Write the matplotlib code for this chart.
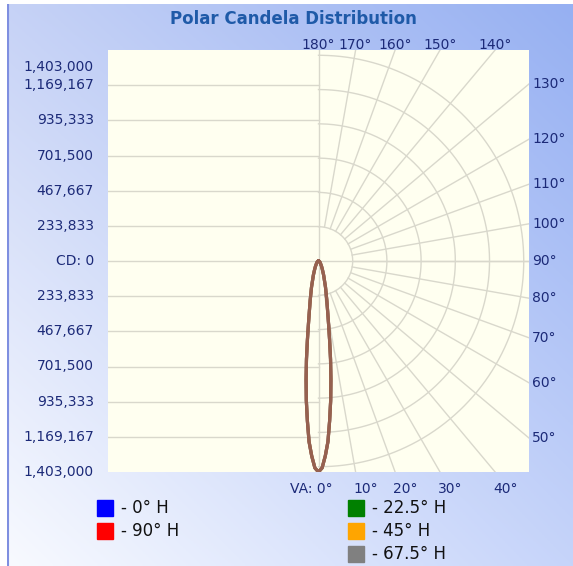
import numpy as np
import matplotlib
matplotlib.use('Agg')
import matplotlib.pyplot as plt
from matplotlib.patches import Rectangle
from matplotlib import transforms

# vertical angles (deg) and candela values
va = [0, 1, 2, 3, 4, 5, 6, 7, 8, 9, 10, 12, 15, 20, 25, 30, 40, 50, 60, 70, 80, 90]
cd_0 = [1403000, 1376000, 1297000, 1203000, 1064000, 931000, 791000, 658000, 532000, 432000,
        359000, 266000, 180000, 100000, 60000, 40000, 20000, 13000, 6600, 4000, 2000, 0]
cd_22 = list(cd_0)
cd_45 = list(cd_0)
cd_67 = list(cd_0)
cd_90 = list(cd_0)

series_labels = ['- 0° H', '- 22.5° H', '- 45° H', '- 67.5° H', '- 90° H']
series_colors = ['#0000FF', '#008000', '#FFA500', '#808080', '#FF0000']
series_data = [cd_0, cd_22, cd_45, cd_67, cd_90]
draw_order = [0, 2, 1, 4, 3]

max_cd = 1403000
cd_ticks = ['1,403,000', '1,169,167', '935,333', '701,500', '467,667', '233,833', 'CD: 0',
            '233,833', '467,667', '701,500', '935,333', '1,169,167', '1,403,000']
top_angles = [180, 170, 160, 150, 140]
right_angles = [130, 120, 110, 100, 90, 80, 70, 60, 50]
bottom_angles = [0, 10, 20, 30, 40]

label_col = '#1c2a78'
grid_col = '#d9d8cc'
W, H = 573, 566

fig = plt.figure(figsize=(W / 100, H / 100), dpi=100)

# background gradient panel
bg = fig.add_axes([7 / W, 0, 1 - 7 / W, 1 - 4 / H])
bg.set_axis_off()
tl = np.array([198, 210, 246]) / 255
tr = np.array([150, 176, 242]) / 255
bl = np.array([248, 250, 255]) / 255
br = np.array([198, 212, 250]) / 255
u = np.linspace(0, 1, 200)[None, :, None]
v = np.linspace(0, 1, 200)[:, None, None]
img = (1 - v) * ((1 - u) * tl + u * tr) + v * ((1 - u) * bl + u * br)
bg.imshow(img, aspect='auto', extent=[0, 1, 0, 1])
bg.set_xlim(0, 1)
bg.set_ylim(0, 1)
bg.axvline(0.002, color='#7f8fe0', lw=1.5)

# main plot area
ax = fig.add_axes([108 / W, (H - 472) / H, 421 / W, 422 / H])
ax.set_facecolor('#fffff0')
ax.set_xlim(-max_cd, max_cd)
ax.set_ylim(-max_cd, max_cd)
ax.set_xticks([])
ax.set_yticks([])
for s in ax.spines.values():
    s.set_visible(False)

step = max_cd / 6
# horizontal grid on the left half
for k in range(-5, 6):
    if k == 0:
        ax.plot([-max_cd, max_cd], [0, 0], color=grid_col, lw=1, zorder=1)
    else:
        ax.plot([-max_cd, 0], [k * step, k * step], color=grid_col, lw=1, zorder=1)
ax.plot([0, 0], [-max_cd, max_cd], color=grid_col, lw=1, zorder=1)

# polar arcs on the right half
t = np.radians(np.linspace(-90, 90, 200))
arc_step = step * 0.975
for k in range(1, 7):
    ax.plot(k * arc_step * np.cos(t), k * arc_step * np.sin(t), color=grid_col, lw=1, zorder=1)
# radial lines
for a in range(10, 180, 10):
    ar = np.radians(a)
    ax.plot([arc_step * np.sin(ar), 3 * max_cd * np.sin(ar)],
            [-arc_step * np.cos(ar), -3 * max_cd * np.cos(ar)], color=grid_col, lw=1, zorder=1)

# candela curves (mirrored to both sides)
va_r = np.radians(va)
for i in draw_order:
    d = np.array(series_data[i])
    xs = np.concatenate([-d[::-1] * np.sin(va_r[::-1]), d * np.sin(va_r)])
    ys = np.concatenate([-d[::-1] * np.cos(va_r[::-1]), -d * np.cos(va_r)])
    ax.plot(xs, ys, color=series_colors[i], lw=2.3, alpha=0.55, zorder=3,
            solid_joinstyle='round')

# left candela labels
ytrans = transforms.blended_transform_factory(ax.transAxes, ax.transData)
for i, lab in enumerate(cd_ticks):
    y = max_cd - i * step
    dy = -17 if i == 0 else 0
    ax.annotate(lab, (0, y), xycoords=ytrans, xytext=(-14, dy), textcoords='offset pixels',
                ha='right', va='center', fontsize=10, color=label_col)

# angle labels
for a in top_angles:
    x = max_cd * np.tan(np.radians(180 - a))
    ax.annotate(f'{a}°', (x, max_cd), xytext=(0, -2), textcoords='offset pixels',
                ha='center', va='bottom', fontsize=10, color=label_col, annotation_clip=False)
for a in right_angles:
    y = -max_cd / np.tan(np.radians(a))
    ax.annotate(f'{a}°', (max_cd, y), xytext=(3, 0), textcoords='offset pixels',
                ha='left', va='center', fontsize=10, color=label_col, annotation_clip=False)
for a in bottom_angles:
    x = max_cd * np.tan(np.radians(a))
    if a == 0:
        ax.annotate('VA: 0°', (x, -max_cd), xytext=(14, -10), textcoords='offset pixels',
                    ha='right', va='top', fontsize=10, color=label_col, annotation_clip=False)
    else:
        ax.annotate(f'{a}°', (x, -max_cd), xytext=(-2, -10), textcoords='offset pixels',
                    ha='left', va='top', fontsize=10, color=label_col, annotation_clip=False)

fig.text(293 / W, 1 - 19 / H, 'Polar Candela Distribution', ha='center', va='center',
         fontsize=12, fontweight='bold', color='#1f5aa8')

# legend
legend_pos = {'- 0° H': (97, 508), '- 90° H': (97, 531),
              '- 22.5° H': (348, 508), '- 45° H': (348, 531), '- 67.5° H': (348, 554)}
for lab, col in zip(series_labels, series_colors):
    px, py = legend_pos[lab]
    fig.patches.append(Rectangle((px / W, 1 - (py + 8) / H), 16 / W, 16 / H,
                                 transform=fig.transFigure, color=col))
    fig.text((px + 24) / W, 1 - py / H, lab, ha='left', va='center', fontsize=12, color='#111111')

fig.savefig('out.png', dpi=100)
